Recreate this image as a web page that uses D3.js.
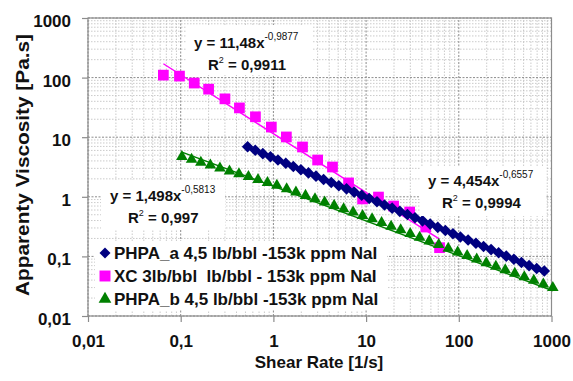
<!DOCTYPE html>
<html>
<head>
<meta charset="utf-8">
<script src="https://cdn.jsdelivr.net/npm/d3@7/dist/d3.min.js"></script>
<style>
  body { margin: 0; background: #fff; }
  #js-chart { width: 573px; height: 381px; }
  text { font-family: Arial, "Liberation Sans", sans-serif; }
</style>
</head>
<body>
<div id="js-chart"></div>
<script>
//  Axis ticks
var tickValues = [0.01, 0.1, 1, 10, 100, 1000];
var tickLabels = ["0,01", "0,1", "1", "10", "100", "1000"];

//  Series names
var seriesNames = [
  "PHPA_a 4,5 lb/bbl -153k ppm NaI",
  "XC 3lb/bbl  lb/bbl - 153k ppm NaI",
  "PHPA_b 4,5 lb/bbl -153k ppm NaI"
];

//  PHPA_a (diamonds)
var phpaA_x = [0.527, 0.637, 0.769, 0.929, 1.12, 1.36, 1.64, 1.98, 2.39, 2.88,
               3.48, 4.21, 5.08, 6.15, 7.43, 8.97, 10.8, 13.1, 15.8, 19.1,
               23.1, 27.9, 33.7, 40.6, 49.1, 59.3, 71.6, 86.5, 104, 126,
               153, 185, 223, 269, 325, 393, 474, 573, 692, 836];
var phpaA_y = [6.9, 6.05, 5.3, 4.7, 4.15, 3.65, 3.22, 2.84, 2.52, 2.22,
               1.95, 1.74, 1.53, 1.36, 1.2, 1.06, 0.935, 0.825, 0.73, 0.645,
               0.57, 0.505, 0.445, 0.395, 0.348, 0.307, 0.272, 0.24, 0.212, 0.188,
               0.166, 0.147, 0.13, 0.115, 0.101, 0.0895, 0.079, 0.07, 0.0625, 0.057];

//  XC (squares)
var xc_x = [0.065, 0.097, 0.14, 0.2, 0.3, 0.43, 0.64, 0.95, 1.38, 2.06,
            3, 4.34, 6.47, 9.17, 13.6, 19.8, 29.5, 44, 62];
var xc_y = [110, 106, 81, 64, 44, 31, 22, 14.8, 10.1, 6.85,
            4.14, 3.16, 1.71, 0.92, 0.99, 0.7, 0.556, 0.311, 0.14];

//  PHPA_b (triangles)
var phpaB_x = [0.103, 0.131, 0.165, 0.209, 0.265, 0.336, 0.425, 0.538, 0.682, 0.863,
               1.09, 1.39, 1.75, 2.22, 2.81, 3.57, 4.52, 5.72, 7.24, 9.16,
               11.6, 14.7, 18.6, 23.6, 29.9, 37.8, 48, 60.7, 76.9, 97.3,
               123, 156, 198, 251, 317, 402, 509, 644, 817, 1033];
var phpaB_y = [4.71, 4.22, 3.78, 3.38, 3.02, 2.7, 2.42, 2.17, 1.94, 1.73,
               1.55, 1.36, 1.2, 1.05, 0.924, 0.811, 0.713, 0.625, 0.55, 0.482,
               0.424, 0.367, 0.319, 0.277, 0.24, 0.208, 0.181, 0.157, 0.136, 0.118,
               0.103, 0.0895, 0.078, 0.0681, 0.0593, 0.0518, 0.0451, 0.0394, 0.0343, 0.0299];

//  Power trendlines  y = a * x^b   (order: PHPA_a, XC, PHPA_b)
var trendA = [4.454, 11.48, 1.498];
var trendB = [-0.6557, -0.9877, -0.5813];
var trendText = ["4,454", "11,48", "1,498"];
var trendExp = ["-0,6557", "-0,9877", "-0,5813"];
var trendR2 = ["0,9994", "0,9911", "0,997"];

// ---------------------------------------------------------------------------------- //

var svg;
var x;
var y;
var colors = ["#000080", "#FF00FF", "#008000"];

function Setup()
{
    svg = d3.select("#js-chart")
      .append("svg")
      .attr("width", 573)
      .attr("height", 381);

    x = d3.scaleLog().domain([0.01, 1000]).range([88, 551.5]);
    y = d3.scaleLog().domain([0.01, 1000]).range([316, 18]);

    // minor grid (2..9 in every decade)
    var minor = [];
    tickValues.slice(0, -1).forEach(function(d) {
      for (var k = 2; k <= 9; k++) minor.push(d * k);
    });

    var grid = svg.append("g");

    grid.selectAll(".vminor").data(minor).enter().append("line")
      .attr("x1", function(d) { return x(d); })
      .attr("x2", function(d) { return x(d); })
      .attr("y1", y(0.01)).attr("y2", y(1000))
      .style("stroke", "#b4b4b4").style("stroke-width", 0.7)
      .style("stroke-dasharray", "1.5,1.5");

    grid.selectAll(".hminor").data(minor).enter().append("line")
      .attr("y1", function(d) { return y(d); })
      .attr("y2", function(d) { return y(d); })
      .attr("x1", x(0.01)).attr("x2", x(1000))
      .style("stroke", "#b4b4b4").style("stroke-width", 0.7)
      .style("stroke-dasharray", "1.5,1.5");

    grid.selectAll(".vmajor").data(tickValues).enter().append("line")
      .attr("x1", function(d) { return x(d); })
      .attr("x2", function(d) { return x(d); })
      .attr("y1", y(0.01)).attr("y2", y(1000))
      .style("stroke", "#8c8c8c").style("stroke-width", 1)
      .style("stroke-dasharray", "2,1.5");

    grid.selectAll(".hmajor").data(tickValues).enter().append("line")
      .attr("y1", function(d) { return y(d); })
      .attr("y2", function(d) { return y(d); })
      .attr("x1", x(0.01)).attr("x2", x(1000))
      .style("stroke", "#8c8c8c").style("stroke-width", 1)
      .style("stroke-dasharray", "2,1.5");

    // plot frame
    svg.append("rect")
      .attr("x", x(0.01)).attr("y", y(1000))
      .attr("width", x(1000) - x(0.01))
      .attr("height", y(0.01) - y(1000))
      .style("fill", "none")
      .style("stroke", "#8c8c8c")
      .style("stroke-width", 1.2);
}
// ---------------------------------------------------------------------------------- //

function Axes()
{
    var fmt = function(d) { return tickLabels[tickValues.indexOf(d)]; };

    var xAxis = svg.append("g")
      .attr("transform", "translate(0," + y(0.01) + ")")
      .call(d3.axisBottom(x).tickValues(tickValues).tickFormat(fmt).tickSize(6).tickPadding(13));

    var yAxis = svg.append("g")
      .attr("transform", "translate(" + x(0.01) + ",0)")
      .call(d3.axisLeft(y).tickValues(tickValues).tickFormat(fmt).tickSize(6).tickPadding(11));

    [xAxis, yAxis].forEach(function(a) {
      a.select(".domain").remove();
      a.selectAll("line").style("stroke", "#8c8c8c").style("stroke-width", 1.2);
      a.selectAll("text")
        .style("font-family", "Arial, 'Liberation Sans', sans-serif")
        .style("font-size", "17px")
        .style("font-weight", "bold")
        .style("fill", "#111");
    });
    yAxis.selectAll("text").attr("dy", "0.5em");

    // axis titles
    svg.append("text")
      .attr("x", 319).attr("y", 368)
      .attr("text-anchor", "middle")
      .style("font-size", "17px").style("font-weight", "bold").style("fill", "#111")
      .text("Shear Rate [1/s]");

    svg.append("text")
      .attr("transform", "translate(29,165) rotate(-90)")
      .attr("text-anchor", "middle")
      .attr("textLength", 262)
      .attr("lengthAdjust", "spacingAndGlyphs")
      .style("font-size", "19px").style("font-weight", "bold").style("fill", "#111")
      .text("Apparenty Viscosity [Pa.s]");
}
// ---------------------------------------------------------------------------------- //

function Series()
{
    var allX = [phpaA_x, xc_x, phpaB_x];
    var allY = [phpaA_y, xc_y, phpaB_y];
    var widths = [3, 1.4, 1.4];

    var line = d3.line()
      .x(function(d) { return x(d[0]); })
      .y(function(d) { return y(d[1]); });

    // trendlines, drawn from first to last measured shear rate
    for (var i = 0; i < 3; i++)
    {
      var x0 = d3.min(allX[i]);
      var x1 = d3.max(allX[i]);
      var pts = [[x0, trendA[i] * Math.pow(x0, trendB[i])],
                 [x1, trendA[i] * Math.pow(x1, trendB[i])]];
      svg.append("path")
        .attr("d", line(pts))
        .style("fill", "none")
        .style("stroke", colors[i])
        .style("stroke-width", widths[i]);
    }

    // markers
    var shapes = [diamond(5.8), d3.symbol().type(d3.symbolSquare).size(115)(),
                  d3.symbol().type(d3.symbolTriangle).size(58)()];

    // XC under the others, like the original
    [1, 0, 2].forEach(function(i) {
      svg.append("g").selectAll("path")
        .data(d3.zip(allX[i], allY[i]))
        .enter().append("path")
        .attr("d", shapes[i])
        .attr("transform", function(d) { return "translate(" + x(d[0]) + "," + y(d[1]) + ")"; })
        .style("fill", colors[i]);
    });
}

function diamond(r)
{
    return "M0," + (-r) + "L" + r + ",0L0," + r + "L" + (-r) + ",0Z";
}
// ---------------------------------------------------------------------------------- //

function Labels()
{
    // boxes for the trendline equations: [left, top, w, h, text x, first baseline]
    var boxes = [[420, 166, 126, 50, 428, 186],
                 [186, 25, 126, 50, 194, 48],
                 [101, 180, 124, 50, 110, 201]];
    var r2dx = [14, 14, 18];

    for (var i = 0; i < 3; i++)
    {
      var b = boxes[i];
      svg.append("rect")
        .attr("x", b[0]).attr("y", b[1])
        .attr("width", b[2]).attr("height", b[3])
        .style("fill", "#fff");

      var t1 = svg.append("text")
        .attr("x", b[4]).attr("y", b[5])
        .style("font-size", "15px").style("font-weight", "bold").style("fill", "#111");
      t1.append("tspan").text("y = " + trendText[i] + "x");
      t1.append("tspan")
        .attr("dy", -8)
        .style("font-size", "10px").style("font-weight", "normal")
        .text(trendExp[i]);

      var t2 = svg.append("text")
        .attr("x", b[4] + r2dx[i]).attr("y", b[5] + 22)
        .style("font-size", "15px").style("font-weight", "bold").style("fill", "#111");
      t2.append("tspan").text("R");
      t2.append("tspan").attr("dy", -7).style("font-size", "9px").style("font-weight", "normal").text("2");
      t2.append("tspan").attr("dy", 7).text(" = " + trendR2[i]);
    }

    // legend
    svg.append("rect")
      .attr("x", 95).attr("y", 241)
      .attr("width", 292).attr("height", 69)
      .style("fill", "#fff");

    var legendShapes = [diamond(5.5), d3.symbol().type(d3.symbolSquare).size(120)(),
                        d3.symbol().type(d3.symbolTriangle).size(70)()];

    seriesNames.forEach(function(name, i) {
      var cy = 253 + i * 23;
      svg.append("path")
        .attr("d", legendShapes[i])
        .attr("transform", "translate(105," + cy + ")")
        .style("fill", colors[i]);
      svg.append("text")
        .attr("x", 114).attr("y", cy + 6)
        .style("font-size", "17px").style("font-weight", "bold").style("fill", "#111")
        .style("white-space", "pre")
        .attr("xml:space", "preserve")
        .text(name);
    });
}
// ---------------------------------------------------------------------------------- //

Setup();
Series();
Axes();
Labels();
</script>
</body>
</html>
